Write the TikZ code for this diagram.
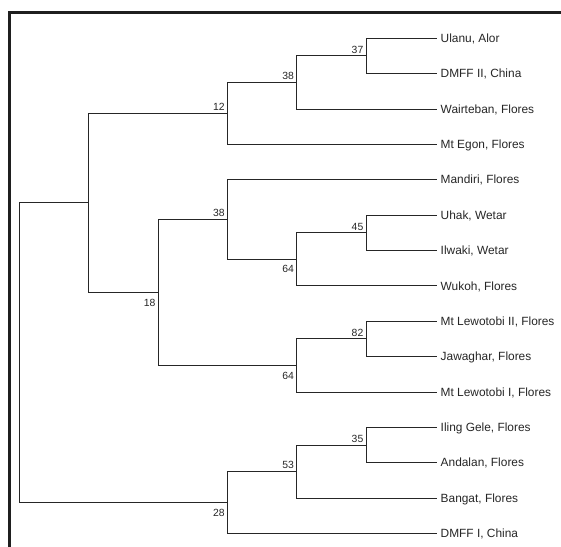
\documentclass[tikz,border=0pt]{standalone}
\usepackage{fontspec}
\setmainfont{Liberation Sans}
\begin{document}
\begin{tikzpicture}[x=1pt,y=-1pt,
  branch/.style={draw=black!85,line width=1pt},
  leaf/.style={anchor=west,inner xsep=3.5pt,inner ysep=0pt,text height=8.4pt,text depth=0pt,font=\fontsize{11.9}{14}\selectfont,text=black!85},
  lblup/.style={anchor=base east,inner sep=0pt,font=\fontsize{10.4}{12}\selectfont,text=black!85},
  lbldn/.style={anchor=base east,inner sep=0pt,font=\fontsize{10.4}{12}\selectfont,text=black!85},
  framel/.style={draw=black!88,line width=3.6pt}]
\useasboundingbox (0,0) rectangle (561,546);
% frame
\draw[framel] (9.5,560) -- (9.5,12.5) -- (575,12.5);
% leaves
\node[leaf] (l0)  at (437,38.30)  {Ulanu, Alor};
\node[leaf] (l1)  at (437,73.67)  {DMFF II, China};
\node[leaf] (l2)  at (437,109.04) {Wairteban, Flores};
\node[leaf] (l3)  at (437,144.41) {Mt Egon, Flores};
\node[leaf] (l4)  at (437,179.78) {Mandiri, Flores};
\node[leaf] (l5)  at (437,215.15) {Uhak, Wetar};
\node[leaf] (l6)  at (437,250.52) {Ilwaki, Wetar};
\node[leaf] (l7)  at (437,285.89) {Wukoh, Flores};
\node[leaf] (l8)  at (437,321.26) {Mt Lewotobi II, Flores};
\node[leaf] (l9)  at (437,356.63) {Jawaghar, Flores};
\node[leaf] (l10) at (437,392.00) {Mt Lewotobi I, Flores};
\node[leaf] (l11) at (437,427.37) {Iling Gele, Flores};
\node[leaf] (l12) at (437,462.74) {Andalan, Flores};
\node[leaf] (l13) at (437,498.11) {Bangat, Flores};
\node[leaf] (l14) at (437,533.48) {DMFF I, China};
% internal nodes
\coordinate (n37)  at (366,55.99);
\coordinate (n38a) at (296.7,82.51);
\coordinate (n12)  at (227.4,113.46);
\coordinate (n45)  at (366,232.84);
\coordinate (n64a) at (296.7,259.36);
\coordinate (n38b) at (227.4,219.57);
\coordinate (n82)  at (366,338.95);
\coordinate (n64b) at (296.7,365.47);
\coordinate (n18)  at (158.1,292.52);
\coordinate (nA)   at (88.8,202.99);
\coordinate (n35)  at (366,445.06);
\coordinate (n53)  at (296.7,471.58);
\coordinate (n28)  at (227.4,502.53);
\coordinate (root) at (19.5,352.76);
% branches
\draw[branch] (n37) |- (l0.west);
\draw[branch] (n37) |- (l1.west);
\draw[branch] (n38a) |- (n37);
\draw[branch] (n38a) |- (l2.west);
\draw[branch] (n12) |- (n38a);
\draw[branch] (n12) |- (l3.west);
\draw[branch] (n45) |- (l5.west);
\draw[branch] (n45) |- (l6.west);
\draw[branch] (n64a) |- (n45);
\draw[branch] (n64a) |- (l7.west);
\draw[branch] (n38b) |- (l4.west);
\draw[branch] (n38b) |- (n64a);
\draw[branch] (n82) |- (l8.west);
\draw[branch] (n82) |- (l9.west);
\draw[branch] (n64b) |- (n82);
\draw[branch] (n64b) |- (l10.west);
\draw[branch] (n18) |- (n38b);
\draw[branch] (n18) |- (n64b);
\draw[branch] (nA) |- (n12);
\draw[branch] (nA) |- (n18);
\draw[branch] (n35) |- (l11.west);
\draw[branch] (n35) |- (l12.west);
\draw[branch] (n53) |- (n35);
\draw[branch] (n53) |- (l13.west);
\draw[branch] (n28) |- (n53);
\draw[branch] (n28) |- (l14.west);
\draw[branch] (root) |- (nA);
\draw[branch] (root) |- (n28);
% support values
\node[lblup] (s37)  at ([shift={(-2.5,-2.7)}]n37)  {37};
\node[lblup] (s38a) at ([shift={(-2.5,-2.7)}]n38a) {38};
\node[lblup] (s12)  at ([shift={(-2.5,-2.7)}]n12)  {12};
\node[lblup] (s45)  at ([shift={(-2.5,-2.7)}]n45)  {45};
\node[lbldn] (s64a) at ([shift={(-2.5,13.6)}]n64a) {64};
\node[lblup] (s38b) at ([shift={(-2.5,-2.7)}]n38b) {38};
\node[lblup] (s82)  at ([shift={(-2.5,-2.7)}]n82)  {82};
\node[lbldn] (s64b) at ([shift={(-2.5,13.6)}]n64b) {64};
\node[lbldn] (s18)  at ([shift={(-2.5,13.6)}]n18)  {18};
\node[lblup] (s35)  at ([shift={(-2.5,-2.7)}]n35)  {35};
\node[lblup] (s53)  at ([shift={(-2.5,-2.7)}]n53)  {53};
\node[lbldn] (s28)  at ([shift={(-2.5,13.6)}]n28)  {28};
\end{tikzpicture}
\end{document}
